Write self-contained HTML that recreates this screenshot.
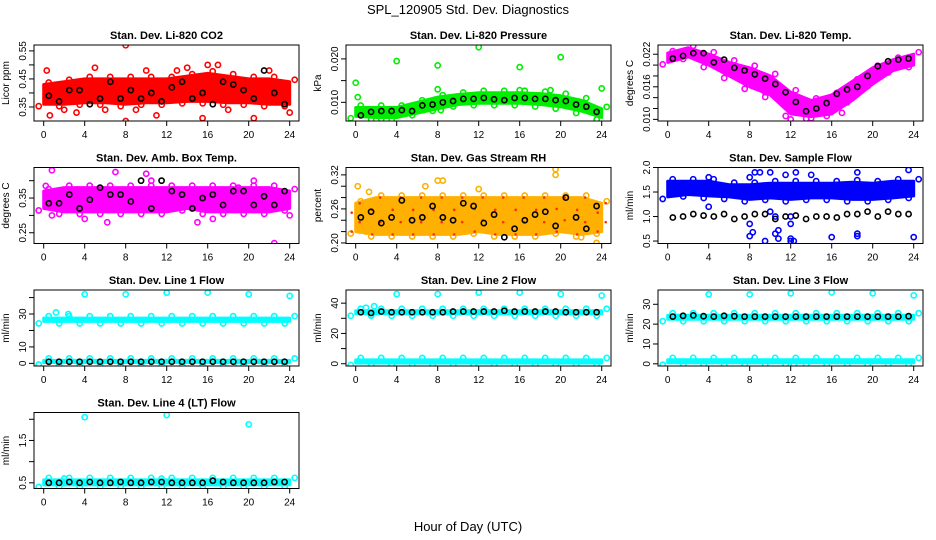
<!DOCTYPE html>
<html><head><meta charset="utf-8"><style>
body{margin:0;background:#fff;}
svg{display:block;font-family:"Liberation Sans",Arial,sans-serif;}
</style></head><body>
<svg id="chart" width="936" height="540" viewBox="0 0 936 540" xmlns="http://www.w3.org/2000/svg">
<text x="468" y="14" text-anchor="middle" font-size="13">SPL_120905  Std. Dev. Diagnostics</text>
<text x="468" y="531" text-anchor="middle" font-size="13">Hour of Day (UTC)</text>
</svg>
<script>
const bandHours=[0,2,4,6,8,10,12,14,16,18,20,22,24];
const blackHours=[0.5,1.5,2.5,3.5,4.5,5.5,6.5,7.5,8.5,9.5,10.5,11.5,12.5,13.5,14.5,15.5,16.5,17.5,18.5,19.5,20.5,21.5,22.5,23.5];
const xTicks=[0,4,8,12,16,20,24];

const co2Lo=[0.36,0.36,0.365,0.365,0.36,0.365,0.365,0.37,0.37,0.365,0.365,0.36,0.36];
const co2Hi=[0.43,0.44,0.45,0.45,0.45,0.45,0.45,0.46,0.47,0.46,0.45,0.45,0.44];
const co2Black=[0.39,0.37,0.41,0.41,0.36,0.38,0.44,0.38,0.41,0.38,0.40,0.37,0.42,0.44,0.38,0.40,0.36,0.44,0.43,0.41,0.38,0.48,0.40,0.36];
const co2Out=[[8,0.57],[8,0.30],[0.3,0.48],[15.5,0.31],[17,0.50],[14,0.49],[20.5,0.31],[24,0.33],[11,0.32],[3.2,0.33],[0.6,0.32],[5,0.49],[13,0.48],[2,0.34],[6,0.34],[9,0.34],[18,0.34],[22,0.48],[10,0.48],[16,0.50]];

const presLo=[0.0068,0.0065,0.0065,0.0075,0.0085,0.0095,0.0098,0.0098,0.0098,0.0095,0.0090,0.0080,0.0065];
const presHi=[0.0088,0.0088,0.0088,0.0100,0.0112,0.0118,0.0122,0.0122,0.0122,0.0120,0.0115,0.0105,0.0085];
const presBlack=[0.0070,0.0078,0.0080,0.0080,0.0082,0.0080,0.0093,0.0095,0.0100,0.0103,0.0108,0.0108,0.0110,0.0107,0.0105,0.0110,0.0110,0.0108,0.0108,0.0105,0.0103,0.0095,0.0090,0.0078];
const presOut=[[0,0.0145],[4,0.0195],[8,0.0185],[8,0.0130],[12,0.0227],[16,0.0181],[16,0.0128],[19,0.0128],[20,0.0204],[24,0.0132],[0.2,0.0112],[8.3,0.0082],[2.5,0.0062]];

const tempLo=[0.0205,0.0215,0.0200,0.0180,0.0160,0.0145,0.0110,0.0105,0.0110,0.0135,0.0165,0.0190,0.0200];
const tempHi=[0.0222,0.0232,0.0220,0.0205,0.0195,0.0180,0.0150,0.0135,0.0145,0.0170,0.0195,0.0210,0.0220];
const tempBlack=[0.0212,0.0217,0.0222,0.0222,0.0205,0.0210,0.0195,0.0190,0.0183,0.0175,0.0165,0.0150,0.0132,0.0115,0.0120,0.0130,0.0147,0.0155,0.0160,0.0180,0.0198,0.0207,0.0210,0.0212];
const tempOut=[[12,0.0100],[14,0.0102],[9.5,0.0150],[17,0.0112]];

const ambLo=[0.32,0.31,0.31,0.31,0.31,0.31,0.31,0.32,0.31,0.31,0.31,0.31,0.32];
const ambHi=[0.37,0.38,0.38,0.38,0.38,0.38,0.38,0.38,0.38,0.38,0.38,0.38,0.37];
const ambBlack=[0.335,0.335,0.36,0.32,0.345,0.38,0.36,0.36,0.34,0.40,0.32,0.40,0.37,0.36,0.32,0.35,0.36,0.33,0.37,0.37,0.33,0.355,0.33,0.37];
const ambOut=[[0.2,0.385],[0.8,0.43],[0.8,0.30],[6.2,0.28],[7,0.425],[10,0.42],[10.5,0.40],[15,0.28],[16.5,0.29],[19,0.38],[22.5,0.22],[24,0.30],[4,0.29],[20.5,0.40]];

const rhLo=[0.22,0.215,0.215,0.215,0.215,0.215,0.22,0.215,0.215,0.215,0.22,0.215,0.22];
const rhHi=[0.27,0.28,0.28,0.28,0.28,0.28,0.28,0.28,0.28,0.28,0.28,0.28,0.27];
const rhBlack=[0.245,0.255,0.235,0.245,0.275,0.24,0.245,0.265,0.245,0.24,0.27,0.265,0.235,0.25,0.21,0.225,0.24,0.25,0.255,0.23,0.28,0.245,0.225,0.265];
const rhOut=[[0.2,0.30],[1.3,0.29],[6.8,0.30],[8,0.31],[8.5,0.31],[19.5,0.33],[19.5,0.32],[23.5,0.20],[1,0.22],[12,0.295],[22,0.21]];

const flowLo=[1.40,1.45,1.42,1.40,1.35,1.38,1.35,1.38,1.38,1.35,1.35,1.38,1.42];
const flowHi=[1.72,1.72,1.72,1.65,1.65,1.68,1.68,1.68,1.68,1.70,1.68,1.72,1.72];
const flowBlack=[0.98,1.0,1.05,1.02,1.0,1.05,0.95,1.0,1.05,1.05,0.95,1.0,1.02,0.95,1.0,1.0,0.98,1.05,1.05,1.1,1.0,1.1,1.05,1.05];
const flowOut=[[4,1.8],[4,1.2],[8,0.6],[8.3,0.68],[8,1.8],[9.5,0.5],[10.5,0.65],[10.8,0.72],[10.8,0.55],[12,0.5],[12,0.55],[12.3,0.5],[12,0.85],[12,1.0],[8.5,1.9],[9,1.9],[10,1.9],[11.5,1.85],[12.5,1.9],[14,1.85],[16,0.58],[18.5,0.65],[18.5,0.6],[18.5,1.9],[24,0.58],[23.5,1.95],[10,1.1],[10.5,1.0],[8,0.85]];

const l1UpLo=[25.5,25.5,25.5,25.5,25.5,25.5,25.5,25.5,25.5,25.5,25.5,25.5,25.5];
const l1UpHi=[27.5,27.5,27.5,27.5,27.5,27.5,27.5,27.5,27.5,27.5,27.5,27.5,27.5];
const l1DnLo=[0.5,0.5,0.5,0.5,0.5,0.5,0.5,0.5,0.5,0.5,0.5,0.5,0.5];
const l1DnHi=[1.8,1.8,1.8,1.8,1.8,1.8,1.8,1.8,1.8,1.8,1.8,1.8,1.8];
const l1Black=[1,1,1,1,1,1,1,1,1,1,1,1,1,1,1,1,1,1,1,1,1,1,1,1];
const l1Out=[[4,42],[8,42],[12,43],[16,43],[20,42],[24,41],[1.2,31],[2.4,30],[19,-0.5]];

const l2UpLo=[33,33,33,33,33,33,33,33,33,33,33,33,33];
const l2UpHi=[35,35,35,35,35,35,35,35,35,35,35,35,35];
const l2DnLo=[0.5,0.5,0.5,0.5,0.5,0.5,0.5,0.5,0.5,0.5,0.5,0.5,0.5];
const l2DnHi=[2.5,2.5,2.5,2.5,2.5,2.5,2.5,2.5,2.5,2.5,2.5,2.5,2.5];
const l2Black=[34,33.5,34.5,34,34,34,34,34,34,34.5,34.5,34.5,34.5,34.5,35,34.5,34.5,34.5,34.5,34.5,34,34,34,34];
const l2Out=[[4,46],[8,46],[12,47],[16,47],[20,46],[24,45],[1,37],[1.5,32],[1.8,38]];

const l3UpLo=[22.5,22.5,22.5,22.5,22.5,22.5,22.5,22.5,22.5,22.5,22.5,22.5,22.5];
const l3UpHi=[24.5,24.5,24.5,24.5,24.5,24.5,24.5,24.5,24.5,24.5,24.5,24.5,24.5];
const l3DnLo=[0.5,0.5,0.5,0.5,0.5,0.5,0.5,0.5,0.5,0.5,0.5,0.5,0.5];
const l3DnHi=[2,2,2,2,2,2,2,2,2,2,2,2,2];
const l3Black=[23.8,24.2,24.4,24,23.8,24.2,24,23.8,23.8,23.8,23.8,23.8,23.8,23.8,23.8,23.8,23.8,23.8,23.8,23.8,23.8,23.8,23.8,24];
const l3Out=[[4,35],[8,35],[12,35.5],[16,36],[20,35.5],[24,34.5],[12.3,-0.5]];

const l4Lo=[0.45,0.45,0.45,0.45,0.45,0.45,0.45,0.45,0.45,0.45,0.45,0.45,0.45];
const l4Hi=[0.57,0.57,0.57,0.57,0.57,0.57,0.57,0.57,0.57,0.57,0.57,0.57,0.57];
const l4Black=[0.5,0.5,0.52,0.5,0.52,0.5,0.5,0.52,0.5,0.5,0.52,0.52,0.5,0.5,0.5,0.5,0.55,0.52,0.5,0.5,0.5,0.5,0.52,0.52];
const l4Out=[[4,2.05],[12,2.1],[20,1.88],[2,0.6],[11.5,0.6]];

const NS='http://www.w3.org/2000/svg';
const svg=document.getElementById('chart');
const colLeft=[34,346,658], rowTop=[45,167.5,290,412.5], PW=265, PH=76;
function mk(tag,attrs,parent){const e=document.createElementNS(NS,tag);for(const k in attrs)e.setAttribute(k,attrs[k]);(parent||svg).appendChild(e);return e;}

const panels=[
 {key:'co2',title:'Stan. Dev. Li-820 CO2',yl:'Licor ppm',c:0,r:0,dom:[0.30,0.571],ticks:[0.35,0.40,0.45,0.50,0.55],labs:['0.35','','0.45','','0.55'],col:'#ff0000',bands:[[co2Lo,co2Hi]],black:co2Black,out:co2Out},
 {key:'pressure',title:'Stan. Dev. Li-820 Pressure',yl:'kPa',c:1,r:0,dom:[0.0057,0.0232],ticks:[0.010,0.015,0.020],labs:['0.010','','0.020'],col:'#00ee00',bands:[[presLo,presHi]],black:presBlack,out:presOut},
 {key:'temp',title:'Stan. Dev. Li-820 Temp.',yl:'degrees C',c:2,r:0,dom:[0.0097,0.0237],ticks:[0.010,0.012,0.014,0.016,0.018,0.020,0.022],labs:['0.010','','','0.016','','','0.022'],col:'#ff00ff',bands:[[tempLo,tempHi]],black:tempBlack,out:tempOut},
 {key:'amb-temp',title:'Stan. Dev. Amb. Box Temp.',yl:'degrees C',c:0,r:1,dom:[0.219,0.438],ticks:[0.25,0.30,0.35,0.40],labs:['0.25','','0.35',''],col:'#ff00ff',bands:[[ambLo,ambHi]],black:ambBlack,out:ambOut},
 {key:'rh',title:'Stan. Dev. Gas Stream RH',yl:'percent',c:1,r:1,dom:[0.199,0.333],ticks:[0.20,0.22,0.24,0.26,0.28,0.30,0.32],labs:['0.20','','','0.26','','','0.32'],col:'#ffb000',band2:'#ff3000',bands:[[rhLo,rhHi]],black:rhBlack,out:rhOut},
 {key:'sample-flow',title:'Stan. Dev. Sample Flow',yl:'ml/min',c:2,r:1,dom:[0.45,2.0],ticks:[0.5,1.0,1.5,2.0],labs:['0.5','1.0','1.5','2.0'],col:'#0000ff',bands:[[flowLo,flowHi]],black:flowBlack,out:flowOut},
 {key:'line1',title:'Stan. Dev. Line 1 Flow',yl:'ml/min',c:0,r:2,dom:[-1.6,44.6],ticks:[0,10,20,30,40],labs:['0','10','','30',''],col:'#00ffff',bands:[[l1UpLo,l1UpHi],[l1DnLo,l1DnHi]],black:l1Black,out:l1Out},
 {key:'line2',title:'Stan. Dev. Line 2 Flow',yl:'ml/min',c:1,r:2,dom:[-1.5,48.7],ticks:[0,10,20,30,40],labs:['0','','20','','40'],col:'#00ffff',bands:[[l2UpLo,l2UpHi],[l2DnLo,l2DnHi]],black:l2Black,out:l2Out},
 {key:'line3',title:'Stan. Dev. Line 3 Flow',yl:'ml/min',c:2,r:2,dom:[-1.1,37.2],ticks:[0,10,20,30],labs:['0','10','20','30'],col:'#00ffff',bands:[[l3UpLo,l3UpHi],[l3DnLo,l3DnHi]],black:l3Black,out:l3Out},
 {key:'line4',title:'Stan. Dev. Line 4 (LT) Flow',yl:'ml/min',c:0,r:3,dom:[0.366,2.16],ticks:[0.5,1.0,1.5,2.0],labs:['0.5','','1.5',''],col:'#00ffff',bands:[[l4Lo,l4Hi]],black:l4Black,out:l4Out}
];

panels.forEach(p=>{
 const L=colLeft[p.c], T=rowTop[p.r], B=T+PH, R=L+PW;
 const X=h=>L+9.7+h*10.25;
 const Y=v=>B-(v-p.dom[0])/(p.dom[1]-p.dom[0])*PH;
 const g=mk('g',{});
 
 
 const t=mk('text',{x:(L+R)/2,y:T-6,'text-anchor':'middle','font-size':11,'font-weight':'bold'},g);
 t.textContent=p.title;
 
 
 const yl=mk('text',{transform:`translate(${L-25},${(T+B)/2}) rotate(-90)`,'text-anchor':'middle','font-size':10},g);
 yl.textContent=p.yl;
 
 
 const cp=mk('clipPath',{id:'cp'+p.key},g);
 mk('rect',{x:L,y:T,width:PW,height:PH},cp);
 const plot=mk('g',{'clip-path':`url(#cp${p.key})`},g);
 
 
 p.bands.forEach(([lo,hi])=>{
  let d='';
  bandHours.forEach((h,i)=>{d+=(i?'L':'M')+X(h).toFixed(1)+','+Y(hi[i]).toFixed(1);});
  for(let i=bandHours.length-1;i>=0;i--)d+='L'+X(bandHours[i]).toFixed(1)+','+Y(lo[i]).toFixed(1);
  const band=mk('path',{d:d+'Z',fill:p.col,stroke:p.col,'stroke-width':3,'stroke-linejoin':'round'},plot);
  
  
  bandHours.forEach((h,i)=>{
   [lo[i],hi[i]].forEach((v,j)=>{
    const e=mk('circle',{cx:X(h)+(j?5:-5),cy:Y(v)+(j?-2:2),r:2.6,fill:'none',stroke:p.col,'stroke-width':1.6},plot);
    
    
   });
  });
  if(p.band2){bandHours.forEach((h,i)=>{[lo[i],(lo[i]*2+hi[i])/3,(lo[i]+hi[i]*2)/3,hi[i]].forEach((v,k)=>{
   const dot=mk('circle',{cx:X(h)+(k%2?4:-4),cy:Y(v),r:1.3,fill:p.band2},plot);
   
   });});}
 });
 p.out.forEach(([h,v])=>{
  const c=mk('circle',{cx:X(h),cy:Y(v),r:2.6,fill:'none',stroke:p.col,'stroke-width':1.6},plot);
  
  
 });
 p.black.forEach((v,i)=>{
  const c=mk('circle',{cx:X(blackHours[i]),cy:Y(v),r:2.6,fill:'none',stroke:'#000','stroke-width':1.6},plot);
  
  
 });
 const box=mk('rect',{x:L,y:T,width:PW,height:PH,fill:'none',stroke:'#000','stroke-width':1},g);
 
 
 mk('line',{x1:X(0),x2:X(24),y1:B,y2:B,stroke:'#000'},g);
 xTicks.forEach(h=>{
  mk('line',{x1:X(h),x2:X(h),y1:B,y2:B+5,stroke:'#000'},g);
  const tl=mk('text',{x:X(h),y:B+17,'text-anchor':'middle','font-size':10},g);
  tl.textContent=h;
  
  
 });
 mk('line',{x1:L,x2:L,y1:Y(p.ticks[0]),y2:Y(p.ticks[p.ticks.length-1]),stroke:'#000'},g);
 p.ticks.forEach((v,i)=>{
  mk('line',{x1:L-5,x2:L,y1:Y(v),y2:Y(v),stroke:'#000'},g);
  if(p.labs[i]){
   const tl=mk('text',{transform:`translate(${L-8},${Y(v)}) rotate(-90)`,'text-anchor':'middle','font-size':10},g);
   tl.textContent=p.labs[i];
   
   
  }
 });
});
</script>
</body></html>
